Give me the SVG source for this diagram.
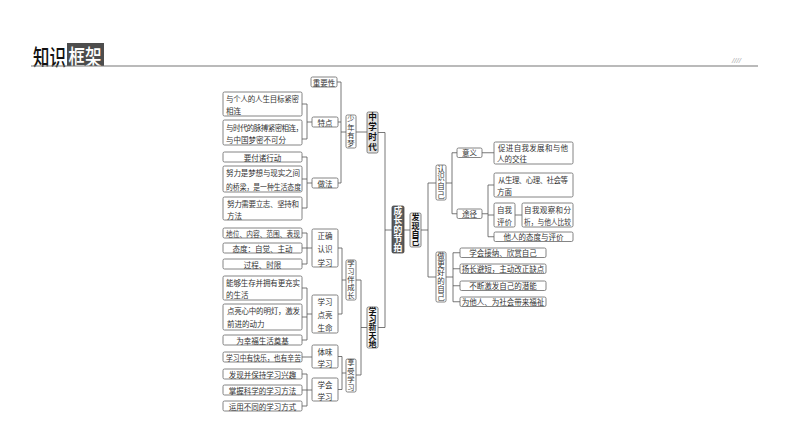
<svg xmlns="http://www.w3.org/2000/svg" width="794" height="447" viewBox="0 0 794 447">
<style>
.b{fill:#fff;stroke:#666;stroke-width:0.8}
.t{font-family:"Noto Sans CJK SC","Noto Sans",sans-serif;font-size:7.5px;fill:#333;dominant-baseline:central}
.m{text-anchor:middle}
.v{writing-mode:vertical-rl;text-anchor:middle}
.k{font-weight:700;fill:#111}
.c{fill:none;stroke:#555;stroke-width:0.8}
.h{font-family:"Noto Sans CJK SC",sans-serif;font-size:22px;font-weight:500;dominant-baseline:central}
</style>
<rect width="794" height="447" fill="#fff"/>
<g id="header">
  <text class="h" x="44" y="55" transform="scale(0.75,1)" fill="#111">知识</text>
  <rect x="67" y="43" width="37" height="23" fill="#4d4d4d"/>
  <text class="h" x="91.5" y="55" transform="scale(0.75,1)" fill="#fff">框架</text>
  <line x1="31" y1="66" x2="758" y2="66" stroke="#777" stroke-width="1.2"/>
  <text x="732" y="63" font-family="Liberation Sans,sans-serif" font-size="8" font-style="italic" fill="#aaa">////</text>
</g>
<g id="connectors">
  <path class="c" d="M337,82H341M338,122H341M338,183H341M341,82V183M341,132H346"/>
  <path class="c" d="M356,132H367"/>
  <path class="c" d="M302,104H307M302,139H307M307,104V139M307,122H312"/>
  <path class="c" d="M302,157H307M302,179H307M302,208H307M307,157V208M307,183H312"/>
  <path class="c" d="M302,233H307M302,248H307M302,264H307M307,233V264M307,248H312"/>
  <path class="c" d="M302,288H307M302,317H307M302,340H307M307,288V340M307,314H312"/>
  <path class="c" d="M302,357H312"/>
  <path class="c" d="M302,374H307M302,390H307M302,406H307M307,374V406M307,390H312"/>
  <path class="c" d="M338,248H342M338,314H342M342,248V314M342,280H346"/>
  <path class="c" d="M338,356.5H342M338,389.5H342M342,356.5V389.5M342,373H346"/>
  <path class="c" d="M356,280H361M356,375H361M361,280V375M361,327.5H367"/>
  <path class="c" d="M378,132.5H385M378,327.5H385M385,132.5V327.5M385,230H392"/>
  <path class="c" d="M404,230H410M421,230H428M428,183V277M428,183H436M428,277H436"/>
  <path class="c" d="M446,183H452M452,152.75V213.75M452,152.75H457M452,213.75H457"/>
  <path class="c" d="M482,152.75H494"/>
  <path class="c" d="M482,213.75H488M488,185V236.75M488,185H494M488,215H494M488,236.75H494"/>
  <path class="c" d="M515,215H522"/>
  <path class="c" d="M446,277H453M453,252.75V301.75M453,252.75H460M453,268.75H460M453,285.75H460M453,301.75H460"/>
</g>
<g id="l1"><rect class="b" x="223" y="92" width="79" height="24" rx="1.5"/><text class="t" x="226" y="98" textLength="73" lengthAdjust="spacing">与个人的人生目标紧密</text><text class="t" x="226" y="110">相连</text></g>
<g id="l2"><rect class="b" x="223" y="120" width="79" height="25" rx="1.5"/><text class="t" x="226" y="127" textLength="77" lengthAdjust="spacing">与时代的脉搏紧密相连，</text><text class="t" x="226" y="139.5">与中国梦密不可分</text></g>
<g id="l3"><rect class="b" x="223" y="152" width="79" height="10" rx="1.5"/><text class="t m" x="262.5" y="157">要付诸行动</text></g>
<g id="l4"><rect class="b" x="223" y="166" width="79" height="26" rx="1.5"/><text class="t" x="226" y="172" textLength="74" lengthAdjust="spacing">努力是梦想与现实之间</text><text class="t" x="226" y="186" textLength="75" lengthAdjust="spacingAndGlyphs">的桥梁，是一种生活态度</text></g>
<g id="l5"><rect class="b" x="223" y="197" width="79" height="23" rx="1.5"/><text class="t" x="227" y="203" textLength="72" lengthAdjust="spacing">努力需要立志、坚持和</text><text class="t" x="227" y="215.5">方法</text></g>
<g id="l6"><rect class="b" x="223" y="228" width="79" height="10" rx="1.5"/><text class="t" x="226" y="233" textLength="74" lengthAdjust="spacingAndGlyphs">地位、内容、范围、表现</text></g>
<g id="l7"><rect class="b" x="223" y="243" width="79" height="10" rx="1.5"/><text class="t m" x="262.5" y="248">态度：自觉、主动</text></g>
<g id="l8"><rect class="b" x="223" y="259" width="79" height="10" rx="1.5"/><text class="t m" x="262.5" y="264">过程、时限</text></g>
<g id="l9"><rect class="b" x="223" y="276" width="79" height="24" rx="1.5"/><text class="t" x="226" y="282" textLength="74" lengthAdjust="spacing">能够生存并拥有更充实</text><text class="t" x="226" y="294">的生活</text></g>
<g id="l10"><rect class="b" x="223" y="304" width="79" height="26" rx="1.5"/><text class="t" x="227" y="310" textLength="73" lengthAdjust="spacing">点亮心中的明灯，激发</text><text class="t" x="227" y="323">前进的动力</text></g>
<g id="l11"><rect class="b" x="223" y="335" width="79" height="10" rx="1.5"/><text class="t m" x="262.5" y="340">为幸福生活奠基</text></g>
<g id="l12"><rect class="b" x="223" y="352" width="79" height="10" rx="1.5"/><text class="t" x="226" y="357" textLength="75" lengthAdjust="spacingAndGlyphs">学习中有快乐，也有辛苦</text></g>
<g id="l13"><rect class="b" x="223" y="369" width="79" height="10" rx="1.5"/><text class="t m" x="262.5" y="374">发现并保持学习兴趣</text></g>
<g id="l14"><rect class="b" x="223" y="385" width="79" height="10" rx="1.5"/><text class="t m" x="262.5" y="390">掌握科学的学习方法</text></g>
<g id="l15"><rect class="b" x="223" y="401" width="79" height="10" rx="1.5"/><text class="t m" x="262.5" y="406">运用不同的学习方式</text></g>
<g id="zyx"><rect class="b" x="311" y="77" width="26" height="10" rx="1.5"/><text class="t m" x="324" y="82">重要性</text></g>
<g id="td"><rect class="b" x="312" y="117" width="26" height="10" rx="1.5"/><text class="t m" x="325" y="122">特点</text></g>
<g id="zf"><rect class="b" x="312" y="178" width="26" height="10" rx="1.5"/><text class="t m" x="325" y="183">做法</text></g>
<g id="zqrsxx"><rect class="b" x="312" y="229" width="26" height="38" rx="1.5"/><text class="t m" x="325" y="235">正确</text><text class="t m" x="325" y="248.5">认识</text><text class="t m" x="325" y="262">学习</text></g>
<g id="xxdlsm"><rect class="b" x="312" y="295" width="26" height="38" rx="1.5"/><text class="t m" x="325" y="301">学习</text><text class="t m" x="325" y="314">点亮</text><text class="t m" x="325" y="327">生命</text></g>
<g id="twxx"><rect class="b" x="312" y="345" width="26" height="23" rx="1.5"/><text class="t m" x="325" y="351">体味</text><text class="t m" x="325" y="363">学习</text></g>
<g id="xhxx"><rect class="b" x="312" y="378" width="26" height="23" rx="1.5"/><text class="t m" x="325" y="384">学会</text><text class="t m" x="325" y="396">学习</text></g>
<g id="snym"><rect class="b" x="346" y="115" width="10" height="33" rx="1.5"/><text class="t v" x="351" y="131.5" style="font-size:7.3px;letter-spacing:1px">少年有梦</text></g>
<g id="xxbcz"><rect class="b" x="346" y="260" width="10" height="40" rx="1.5"/><text class="t v" x="351" y="280" style="font-size:7.3px;letter-spacing:0.7px">学习伴成长</text></g>
<g id="xsxx"><rect class="b" x="346" y="359" width="10" height="33" rx="1.5"/><text class="t v" x="351" y="375.5" style="font-size:7.3px;letter-spacing:1px">享受学习</text></g>
<g id="zxsd"><rect class="b" x="367" y="112" width="11" height="41" rx="1.5" style="fill:#e2e2e2"/><text class="t v k" x="372.5" y="132.5" style="font-size:8.6px;letter-spacing:1.6px">中学时代</text></g>
<g id="xxxtd"><rect class="b" x="367" y="307" width="11" height="41" rx="1.5" style="fill:#f6f6f6"/><text class="t v k" x="372.5" y="327.5" style="font-size:8px;letter-spacing:0.2px">学习新天地</text></g>
<g id="root"><rect x="392" y="206" width="12" height="47" rx="1.5" fill="#5a5a5a" stroke="#444" stroke-width="0.8"/><text class="t v k" x="398" y="229.5" style="font-size:8.8px;letter-spacing:0.5px;fill:#fff">成长的节拍</text></g>
<g id="fxzj"><rect class="b" x="410" y="213" width="11" height="34" rx="1.5" style="fill:#eeeeee"/><text class="t v k" x="415.5" y="230" style="font-size:8px;letter-spacing:0.4px">发现自己</text></g>
<g id="rszj"><rect class="b" x="436" y="165" width="10" height="35" rx="1.5"/><text class="t v" x="441" y="182.5" style="font-size:7.5px;letter-spacing:1.2px">认识自己</text></g>
<g id="zghdzj"><rect class="b" x="436" y="252" width="10" height="50" rx="1.5"/><text class="t v" x="441" y="277" style="font-size:7.5px;letter-spacing:0.8px">做更好的自己</text></g>
<g id="yy"><rect class="b" x="457" y="148" width="25" height="9.5" rx="1.5"/><text class="t m" x="469.5" y="152.75">意义</text></g>
<g id="tj"><rect class="b" x="457" y="209" width="25" height="9.5" rx="1.5"/><text class="t m" x="469.5" y="213.75">途径</text></g>
<g id="cjzw"><rect class="b" x="494" y="142" width="79" height="22" rx="1.5"/><text class="t" x="498" y="147" textLength="70" lengthAdjust="spacing">促进自我发展和与他</text><text class="t" x="497" y="158.5">人的交往</text></g>
<g id="csl"><rect class="b" x="494" y="173" width="79" height="24" rx="1.5"/><text class="t" x="498" y="179.5" textLength="70" lengthAdjust="spacing">从生理、心理、社会等</text><text class="t" x="497" y="191.5">方面</text></g>
<g id="zwpj"><rect class="b" x="494" y="203" width="21" height="24" rx="1.5"/><text class="t m" x="504.5" y="209">自我</text><text class="t m" x="504.5" y="221">评价</text></g>
<g id="zwgc"><rect class="b" x="522" y="203" width="51" height="24" rx="1.5"/><text class="t" x="524" y="209" textLength="47" lengthAdjust="spacing">自我观察和分</text><text class="t" x="524" y="221" textLength="47" lengthAdjust="spacingAndGlyphs">析，与他人比较</text></g>
<g id="trtd"><rect class="b" x="494" y="232" width="79" height="9.5" rx="1.5"/><text class="t m" x="533.5" y="236.75">他人的态度与评价</text></g>
<g id="d1"><rect class="b" x="460" y="248" width="86" height="9.5" rx="1.5"/><text class="t m" x="503" y="252.75">学会接纳、欣赏自己</text></g>
<g id="d2"><rect class="b" x="460" y="264" width="86" height="9.5" rx="1.5"/><text class="t m" x="503" y="268.75">扬长避短，主动改正缺点</text></g>
<g id="d3"><rect class="b" x="460" y="281" width="86" height="9.5" rx="1.5"/><text class="t m" x="503" y="285.75">不断激发自己的潜能</text></g>
<g id="d4"><rect class="b" x="460" y="297" width="86" height="9.5" rx="1.5"/><text class="t m" x="503" y="301.75">为他人、为社会带来福祉</text></g>
</svg>
